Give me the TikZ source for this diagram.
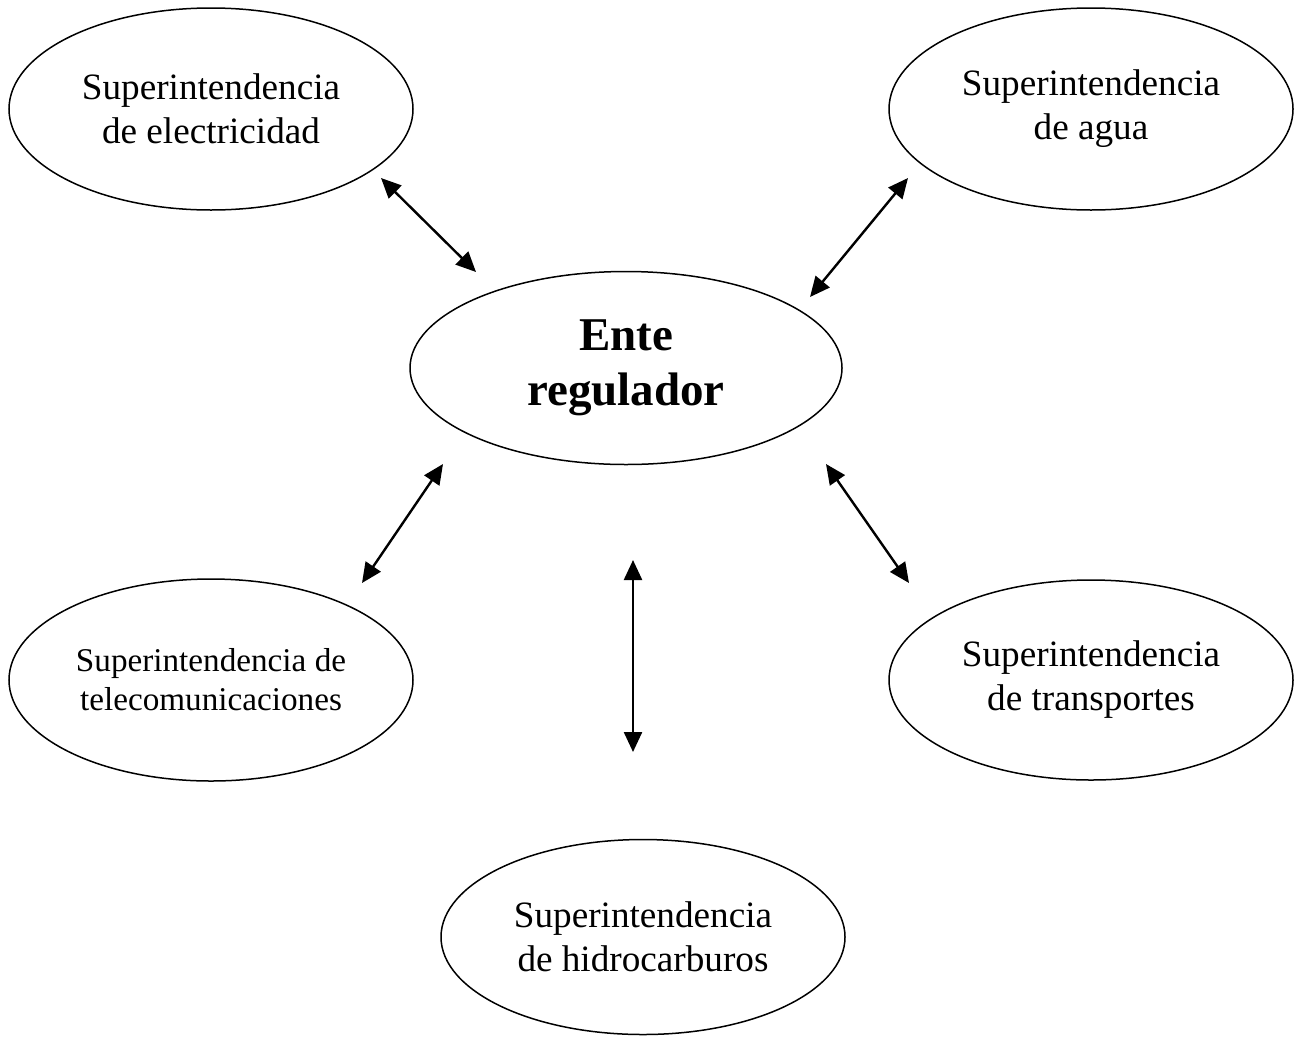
\documentclass[tikz,border=0pt]{standalone}
\usepackage{fontspec}
\setmainfont{Liberation Serif}
\usepackage{tikz}
\usetikzlibrary{arrows.meta,positioning,shapes.geometric}

\begin{document}
\begin{tikzpicture}[
  x=0.5pt, y=-0.5pt,
  sup/.style={ellipse, draw=black, line width=0.75pt, inner sep=0pt,
              minimum width=202pt, minimum height=101pt, align=center,
              font=\fontsize{18.6}{22}\selectfont},
  ente/.style={ellipse, draw=black, line width=0.75pt, inner sep=0pt,
               minimum width=216pt, minimum height=96.5pt, align=center,
               font=\fontsize{23.5}{27.5}\selectfont\bfseries},
  arr/.style={{Triangle[length=10pt,width=9pt]}-{Triangle[length=10pt,width=9pt]}, line width=1.2pt}
]
\useasboundingbox (0,0) rectangle (1304,1039);

\node[ente] (ente) at (626,368) {Ente\\regulador};
\node[sup] (elec) at (211,109) {Superintendencia\\de electricidad};
\node[sup] (agua) at (1091,109) {Superintendencia\\de agua};
\node[sup, font=\fontsize{16.6}{19.5}\selectfont] (tele) at (211,680) {Superintendencia de\\telecomunicaciones};
\node[sup, minimum height=100pt] (trans) at (1091,680) {Superintendencia\\de transportes};
\node[sup, minimum height=97.5pt] (hidro) at (643,937) {Superintendencia\\de hidrocarburos};

% arrow ends
\coordinate (e1) at (381,178);  \coordinate (c1) at (476,272);
\coordinate (a1) at (908,178);  \coordinate (c2) at (810,297);
\coordinate (t1) at (362,583);  \coordinate (c3) at (443,464);
\coordinate (r1) at (909,583);  \coordinate (c4) at (826,464);
\coordinate (h1) at (633,752);  \coordinate (c5) at (633,560);

\draw[arr] (e1) -- (c1);
\draw[arr] (a1) -- (c2);
\draw[arr] (t1) -- (c3);
\draw[arr] (r1) -- (c4);
\draw[arr] (h1) -- (c5);
\end{tikzpicture}
\end{document}
